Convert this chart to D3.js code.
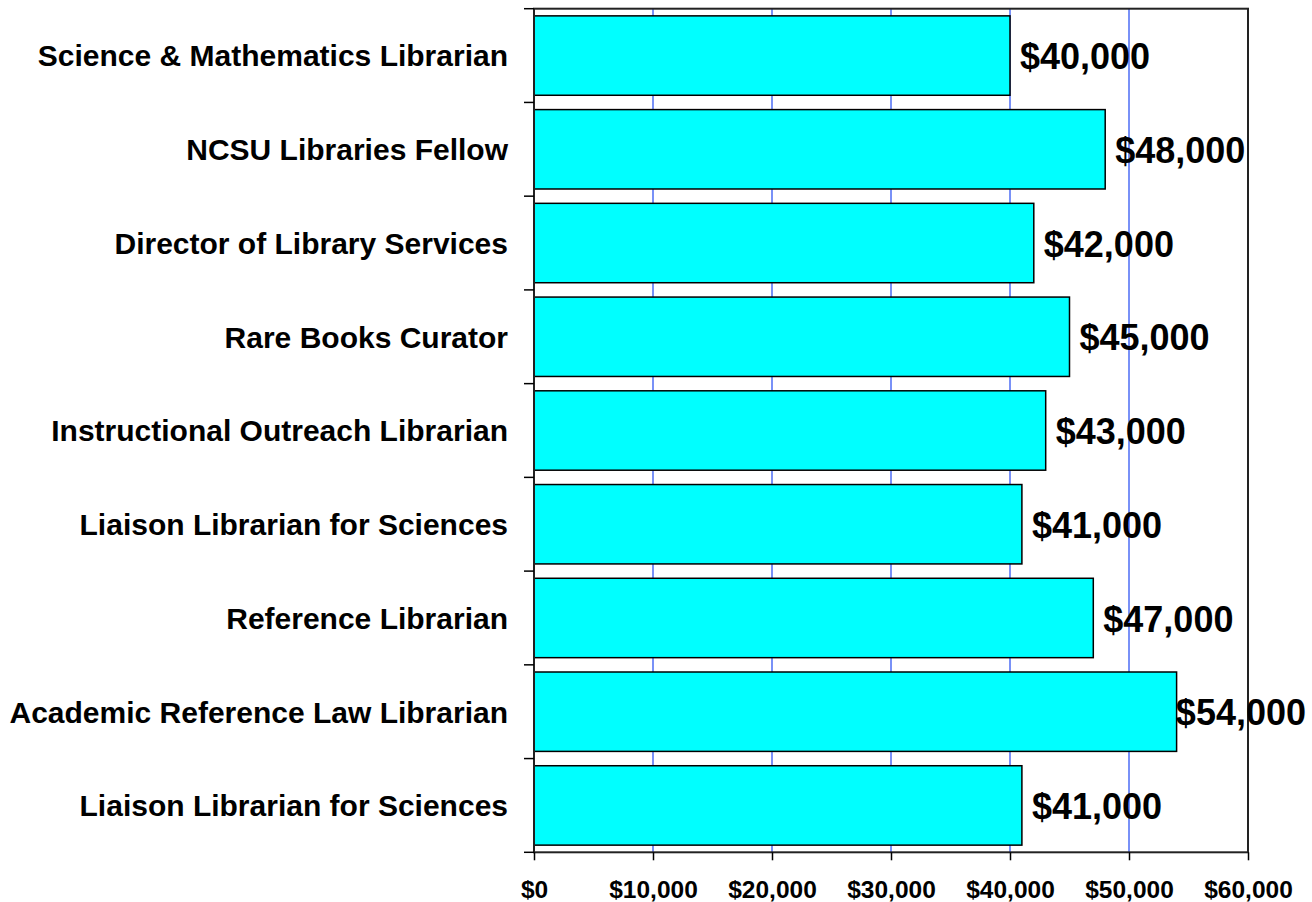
<!DOCTYPE html>
<html><head><meta charset="utf-8">
<script src="https://cdn.jsdelivr.net/npm/d3@7"></script>
<style>html,body{margin:0;padding:0;background:#fff;}svg{display:block;}</style>
</head><body><svg id="c" width="1312" height="902"></svg>
<script>
const categories = ["Science & Mathematics Librarian","NCSU Libraries Fellow","Director of Library Services","Rare Books Curator","Instructional Outreach Librarian","Liaison Librarian for Sciences","Reference Librarian","Academic Reference Law Librarian","Liaison Librarian for Sciences"];
const salaries = [40000,48000,42000,45000,43000,41000,47000,54000,41000];
const xTicks = [0,10000,20000,30000,40000,50000,60000];

const svg = d3.select("#c");
const L = 534, R = 1248, T = 8.7, B = 852.3;
const x = d3.scaleLinear().domain([0,60000]).range([L,R]);
const y = d3.scaleBand().domain(d3.range(categories.length)).range([T,B]).paddingInner(0.153).paddingOuter(0.0765);
const band = d3.scaleBand().domain(d3.range(categories.length)).range([T,B]);
const fmt = v => "$" + d3.format(",")(v);

// gridlines
svg.append("g").selectAll("line").data(xTicks.filter(t=>t>0 && t<60000)).join("line")
  .attr("x1",d=>x(d)).attr("x2",d=>x(d)).attr("y1",T).attr("y2",B)
  .attr("stroke","#4d6cf5").attr("stroke-width",1.5);

// bars
svg.append("g").selectAll("rect").data(salaries).join("rect")
  .attr("x",x(0)).attr("y",(d,i)=>y(i)).attr("width",d=>x(d)-x(0)).attr("height",y.bandwidth())
  .attr("fill","#00ffff").attr("stroke","#000").attr("stroke-width",1.5);

// frame
svg.append("rect").attr("x",L).attr("y",T).attr("width",R-L).attr("height",B-T)
  .attr("fill","none").attr("stroke","#222").attr("stroke-width",2);

// left ticks at band boundaries
const bounds = d3.range(categories.length+1).map(i => i<categories.length ? band(i) : B);
svg.append("g").selectAll("line").data(bounds).join("line")
  .attr("x1",L-10).attr("x2",L).attr("y1",d=>d).attr("y2",d=>d)
  .attr("stroke","#000").attr("stroke-width",1.5);

// bottom axis
const xAxis = svg.append("g").attr("transform",`translate(0,${B})`)
  .call(d3.axisBottom(x).tickValues(xTicks).tickFormat(fmt).tickSize(8).tickPadding(20));
xAxis.select(".domain").remove();
xAxis.selectAll("line").attr("stroke","#000").attr("stroke-width",1.5);
xAxis.selectAll("text").attr("font-family","'Liberation Sans', Arial, sans-serif")
  .attr("font-weight","bold").attr("font-size","24.5px").attr("fill","#000");

// category labels
svg.append("g").selectAll("text").data(categories).join("text")
  .attr("x",L-26).attr("y",(d,i)=>band(i)+band.bandwidth()/2).attr("dy","0.36em")
  .attr("text-anchor","end").attr("font-family","'Liberation Sans', Arial, sans-serif")
  .attr("font-weight","bold").attr("font-size","30px").attr("fill","#000").text(d=>d);

// value labels
svg.append("g").selectAll("text").data(salaries).join("text")
  .attr("x",d=>x(d)+10).attr("y",(d,i)=>band(i)+band.bandwidth()/2).attr("dy","0.38em")
  .attr("font-family","'Liberation Sans', Arial, sans-serif")
  .attr("font-weight","bold").attr("font-size","36px").attr("fill","#000").text(fmt)
  .each(function(d){
    const len = this.getComputedTextLength();
    const x0 = +this.getAttribute("x");
    if (x0 + len > 1306) this.setAttribute("x", 1306 - len);
  });
</script></body></html>
